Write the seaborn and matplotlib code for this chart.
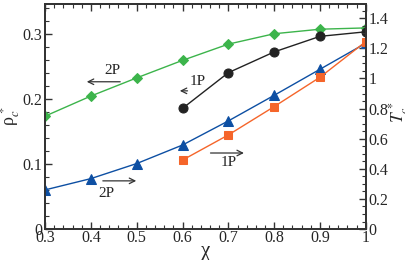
import numpy as np
import pandas as pd
import matplotlib
matplotlib.use("Agg")
import matplotlib.pyplot as plt
from matplotlib.ticker import MultipleLocator
import seaborn as sns

chi_2p = [0.3, 0.4, 0.5, 0.6, 0.7, 0.8, 0.9, 1.0]
rho_2p = [0.174, 0.205, 0.233, 0.260, 0.285, 0.301, 0.308, 0.310]
t_2p = [0.26, 0.335, 0.435, 0.558, 0.718, 0.888, 1.061, 1.234]
chi_1p = [0.6, 0.7, 0.8, 0.9, 1.0]
rho_1p = [0.186, 0.241, 0.273, 0.297, 0.304]
t_1p = [0.458, 0.625, 0.813, 1.008, 1.245]

green = "#3cb44b"
black = "#222222"
blue = "#0d4fa3"
orange = "#f5652a"

sns.set_style("ticks")
plt.rcParams['font.family'] = ['Liberation Serif', 'DejaVu Serif']
plt.rcParams['mathtext.fontset'] = 'stix'

fig = plt.figure(figsize=(4.06, 2.60), dpi=100)
ax = fig.add_axes([0.111, 0.119, 0.79, 0.866])
ax2 = ax.twinx()

sns.lineplot(x=chi_2p, y=rho_2p, ax=ax, color=green, marker="D", markersize=5,
             markeredgecolor=green, linewidth=1.0)
sns.lineplot(x=chi_1p, y=rho_1p, ax=ax, color=black, marker="o", markersize=6.5,
             markeredgecolor=black, linewidth=1.0)
sns.lineplot(x=chi_2p, y=t_2p, ax=ax2, color=blue, marker="^", markersize=7,
             markeredgecolor=blue, linewidth=1.0)
sns.lineplot(x=chi_1p, y=t_1p, ax=ax2, color=orange, marker="s", markersize=6,
             markeredgecolor=orange, linewidth=1.0)

ax.set_xlim(0.3, 1.0)
ax.set_ylim(0, 0.347)
ax2.set_ylim(0, 1.495)

ax.xaxis.set_minor_locator(MultipleLocator(0.02))
ax.yaxis.set_minor_locator(MultipleLocator(0.02))
ax2.yaxis.set_minor_locator(MultipleLocator(0.05))

ax.set_xticks([0.3, 0.4, 0.5, 0.6, 0.7, 0.8, 0.9, 1.0])
ax.set_xticklabels(["0.3", "0.4", "0.5", "0.6", "0.7", "0.8", "0.9", "1"])
ax.set_yticks([0, 0.1, 0.2, 0.3])
ax.set_yticklabels(["0", "0.1", "0.2", "0.3"])
ax2.set_yticks([0, 0.2, 0.4, 0.6, 0.8, 1.0, 1.2, 1.4])
ax2.set_yticklabels(["0", "0.2", "0.4", "0.6", "0.8", "1", "1.2", "1.4"])

ax.tick_params(which="both", direction="in", top=True, right=False, labelsize=11.5,
               color="#333333")
ax.tick_params(axis="x", pad=1)
ax.tick_params(axis="y", pad=2)
ax.tick_params(which="major", length=5, width=1)
ax.tick_params(which="minor", length=3, width=0.8)
ax2.tick_params(which="both", direction="in", labelsize=11.5, color="#333333", pad=2)
ax2.tick_params(which="major", length=5, width=1)
ax2.tick_params(which="minor", length=3, width=0.8)

for a in (ax, ax2):
    for s in a.spines.values():
        s.set_linewidth(1.3)
        s.set_color("#333333")

ax.set_xlabel("χ", fontsize=15, labelpad=-3)
ax.set_ylabel(r"ρ$_c^{\,*}$", fontsize=13)
ax.yaxis.set_label_coords(-0.072, 0.5)
ax2.set_ylabel(r"$T_c^{\,*}$", fontsize=12.5)
ax2.yaxis.set_label_coords(1.064, 0.52)

arrow = dict(arrowstyle="->", color="#333333", lw=0.9)
# green 2P
ax.annotate("", xy=(0.385, 0.227), xytext=(0.47, 0.227), arrowprops=arrow)
ax.text(0.447, 0.245, "2P", fontsize=11, ha="center", va="center")
# black 1P
ax.annotate("", xy=(0.588, 0.213), xytext=(0.617, 0.213), arrowprops=arrow)
ax.text(0.633, 0.227, "1P", fontsize=11, ha="center", va="center")
# blue 2P
ax2.annotate("", xy=(0.505, 0.32), xytext=(0.42, 0.32), arrowprops=arrow)
ax2.text(0.434, 0.234, "2P", fontsize=11, ha="center", va="center")
# orange 1P
ax2.annotate("", xy=(0.74, 0.505), xytext=(0.655, 0.505), arrowprops=arrow)
ax2.text(0.7, 0.442, "1P", fontsize=11, ha="center", va="center")

fig.savefig("out.png", dpi=100)
